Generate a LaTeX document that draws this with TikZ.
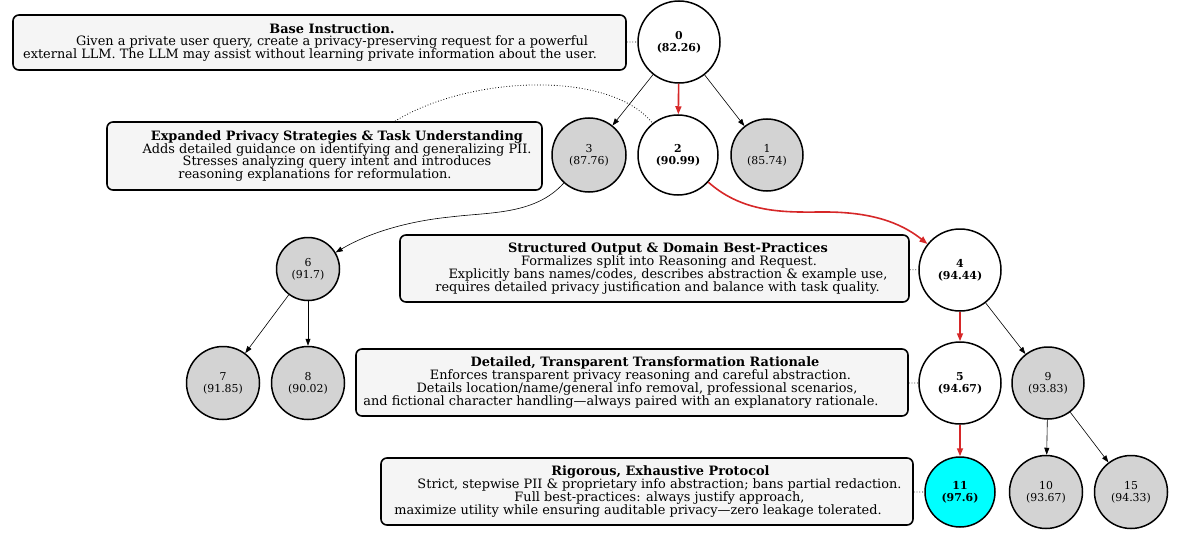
\documentclass[tikz,border=0pt]{standalone}
\usepackage{fontspec}
\setmainfont{DejaVu Serif}
\usetikzlibrary{arrows.meta}
\definecolor{bestred}{HTML}{D62728}
\definecolor{boxgray}{HTML}{F5F5F5}
\definecolor{nodegray}{HTML}{D3D3D3}
\definecolor{topcyan}{RGB}{0,255,255}
% one text line, moved sideways by #1 pt from the box centre
\newcommand{\tline}[2]{\makebox[0pt]{\hspace*{#1pt}\hspace*{#1pt}#2}}

\begin{document}
\begin{tikzpicture}[x=1pt,y=-1pt,
		strategy/.style={draw, line width=1.6pt, rounded corners=6pt, fill=boxgray, inner sep=0pt, align=center, font=\fontsize{12.9}{12.7}\selectfont},
		cand/.style={circle, draw, line width=1.5pt, fill=nodegray, inner sep=0pt, align=center, font=\fontsize{10.9}{12.2}\selectfont},
		best/.style={cand, fill=white, font=\fontsize{10.9}{12.2}\selectfont\bfseries},
		edge/.style={-{Triangle[length=7pt,width=5pt]}, line width=0.6pt},
		bestedge/.style={-{Triangle[length=8pt,width=6pt]}, line width=1.6pt, bestred},
		link/.style={dotted, line width=0.8pt}]
		\useasboundingbox (0,0) rectangle (1200,551);

		\node[best, minimum size=82pt] (n0) at (679,42) {0\\(82.26)};
		\node[best, minimum size=80pt] (n2) at (678,155) {2\\(90.99)};
		\node[cand, minimum size=74pt] (n3) at (589,155) {3\\(87.76)};
		\node[cand, minimum size=72pt] (n1) at (767,155) {1\\(85.74)};
		\node[best, minimum size=82pt] (n4) at (960,270) {4\\(94.44)};
		\node[cand, minimum size=63pt] (n6) at (308,269) {6\\(91.7)};
		\node[cand, minimum size=73pt] (n7) at (223,383) {7\\(91.85)};
		\node[cand, minimum size=73pt] (n8) at (308,383) {8\\(90.02)};
		\node[best, minimum size=82pt] (n5) at (960,383) {5\\(94.67)};
		\node[cand, minimum size=72pt] (n9) at (1048,383) {9\\(93.83)};
		\node[best, fill=topcyan, minimum size=70pt] (n11) at (960,492) {11\\(97.6)};
		\node[cand, minimum size=73pt] (n10) at (1046,492) {10\\(93.67)};
		\node[cand, minimum size=73pt] (n15) at (1131,492) {15\\(94.33)};

		\node[strategy, minimum width=613pt, minimum height=55pt] (s0) at (319.5,42.5) {\tline{12.5}{\bfseries Base Instruction.}\\
			\tline{12.5}{Given a private user query, create a privacy-preserving request for a powerful}\\
			\tline{-9.5}{external LLM. The LLM may assist without learning private information about the user.}};
		\node[strategy, minimum width=435pt, minimum height=68pt] (s1) at (324.5,156) {\tline{12.5}{\bfseries Expanded Privacy Strategies \& Task Understanding}\\
			\tline{12.5}{Adds detailed guidance on identifying and generalizing PII.}\\
			\tline{12.5}{Stresses analyzing query intent and introduces}\\
			\tline{-9.5}{reasoning explanations for reformulation.}};
		\node[strategy, minimum width=509pt, minimum height=67pt] (s2) at (654.5,268.5) {\tline{13.5}{\bfseries Structured Output \& Domain Best-Practices}\\
			\tline{14.5}{Formalizes split into Reasoning and Request.}\\
			\tline{13.5}{Explicitly bans names/codes, describes abstraction \& example use,}\\
			\tline{3}{requires detailed privacy justification and balance with task quality.}};
		\node[strategy, minimum width=552pt, minimum height=67pt] (s3) at (632,382.5) {\tline{13}{\bfseries Detailed, Transparent Transformation Rationale}\\
			\tline{8.5}{Enforces transparent privacy reasoning and careful abstraction.}\\
			\tline{5}{Details location/name/general info removal, professional scenarios,}\\
			\tline{-11}{and fictional character handling—always paired with an explanatory rationale.}};
		\node[strategy, minimum width=532pt, minimum height=67pt] (s4) at (647,491.5) {\tline{13.5}{\bfseries Rigorous, Exhaustive Protocol}\\
			\tline{12.5}{Strict, stepwise PII \& proprietary info abstraction; bans partial redaction.}\\
			\tline{12.5}{Full best-practices: always justify approach,}\\
			\tline{-9}{maximize utility while ensuring auditable privacy—zero leakage tolerated.}};

		\draw[edge] (n0) -- (n3);
		\draw[bestedge] (n0) -- (n2);
		\draw[edge] (n0) -- (n1);
		\draw[edge] (n3) .. controls (535,215) and (490,212) .. (450,217) .. controls (410,221) and (370,232) .. (n6);
		\draw[bestedge] (n2) .. controls (745,215) and (790,212) .. (825,212) .. controls (870,212) and (900,222) .. (n4);
		\draw[edge] (n6) -- (n7);
		\draw[edge] (n6) -- (n8);
		\draw[bestedge] (n4) -- (n5);
		\draw[edge] (n4) -- (n9);
		\draw[bestedge] (n5) -- (n11);
		\draw[edge] (n9) -- (n10);
		\draw[edge] (n9) -- (n15);

		\draw[link] (s0) -- (n0);
		\draw[link] ([xshift=70.5pt]s1.north) .. controls (470,75) and (610,70) .. (n2);
		\draw[link] (s2) -- (n4);
		\draw[link] (s3) -- (n5);
		\draw[link] (s4) -- (n11);
	\end{tikzpicture}
\end{document}
